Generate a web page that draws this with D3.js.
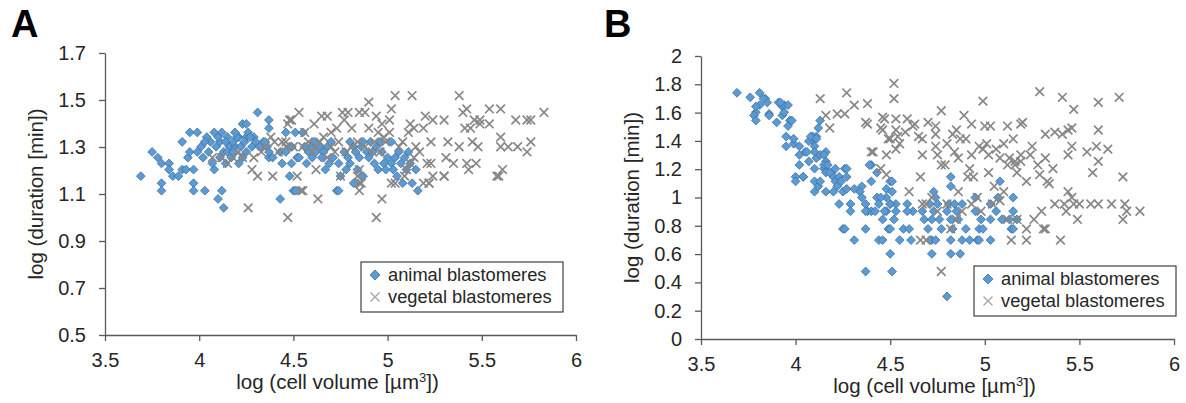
<!DOCTYPE html>
<html>
<head>
<meta charset="utf-8">
<script src="https://cdn.jsdelivr.net/npm/d3@7"></script>
<style>
  body { margin: 0; background: #fff; }
  svg { font-family: "Liberation Sans", Arial, sans-serif; }
</style>
</head>
<body>
<svg width="1186" height="403"></svg>
<script>
// tick values
var xTicks = [3.5, 4, 4.5, 5, 5.5, 6];
var yTicksA = [0.5, 0.7, 0.9, 1.1, 1.3, 1.5, 1.7];
var yTicksB = [0, 0.2, 0.4, 0.6, 0.8, 1, 1.2, 1.4, 1.6, 1.8, 2];
var seriesNames = ['animal blastomeres', 'vegetal blastomeres'];

// panel A: [log cell volume, log duration]
var animalA = [
  [3.69,1.176],[3.75,1.279],[3.78,1.255],[3.80,1.230],[3.80,1.146],[3.80,1.114],[3.84,1.230],[3.84,1.204],[3.86,1.176],[3.89,1.176],
  [3.91,1.322],[3.95,1.362],[3.99,1.362],[3.91,1.204],[3.93,1.204],[3.94,1.255],[3.97,1.204],[3.97,1.146],[3.97,1.114],[3.95,1.279],
  [3.99,1.279],[4.03,1.114],[4.04,1.342],[4.05,1.279],[4.02,1.255],[4.08,1.362],[4.08,1.204],[4.10,1.079],[4.12,1.114],[4.13,1.041],
  [4.09,1.301],[4.11,1.322],[4.13,1.279],[4.15,1.342],[4.16,1.301],[4.19,1.301],[4.18,1.322],[4.17,1.255],[4.21,1.230],[4.23,1.398],
  [4.25,1.398],[4.21,1.342],[4.25,1.342],[4.25,1.279],[4.28,1.301],[4.29,1.342],[4.31,1.447],[4.37,1.415],[4.37,1.380],[4.34,1.322],
  [4.36,1.301],[4.37,1.255],[4.43,1.079],[4.44,1.230],[4.48,1.176],[4.50,1.114],[4.46,1.362],
  [4.35,1.322],[4.37,1.279],[4.39,1.255],[4.43,1.279],[4.46,1.279],[4.49,1.301],[4.52,1.255],[4.49,1.230],
  [4.51,1.362],[4.55,1.362],[4.49,1.301],[4.53,1.255],[4.59,1.301],[4.64,1.301],[4.70,1.322],[4.71,1.255],[4.74,1.230],[4.75,1.176],
  [4.73,1.114],[4.80,1.322],[4.82,1.301],[4.80,1.230],[4.82,1.146],[4.85,1.255],[4.87,1.176],[4.87,1.322],[4.91,1.322],[4.96,1.322],
  [5.02,1.322],[4.89,1.279],[4.93,1.230],[4.95,1.204],[4.98,1.230],[5.02,1.230],[5.03,1.204],[5.06,1.279],[5.07,1.230],[5.08,1.146],
  [5.10,1.204],[5.13,1.146],[5.15,1.204],[5.16,1.114],[5.12,1.230],[4.74,1.114],[4.51,1.114],
  [4.06,1.322],[4.10,1.342],[4.12,1.362],[4.14,1.322],[4.15,1.279],[4.18,1.279],[4.20,1.342],[4.22,1.301],[4.24,1.322],[4.26,1.362],
  [4.27,1.342],[4.30,1.322],[4.32,1.301],[4.14,1.230],[4.07,1.230],[4.01,1.301],[4.03,1.322],[4.19,1.362],[4.23,1.255],[4.11,1.255],
  [4.56,1.301],[4.58,1.279],[4.61,1.322],[4.62,1.279],[4.66,1.279],[4.68,1.301],[4.57,1.230],[4.60,1.255],[4.65,1.255],[4.69,1.230],
  [4.67,1.204],[4.77,1.279],[4.79,1.255],[4.83,1.279],[4.86,1.301],[4.90,1.255],[4.92,1.279],[4.94,1.301],[4.97,1.279],[5.00,1.255],
  [4.99,1.204],[5.04,1.255],[5.09,1.255],[5.11,1.279],[5.05,1.176],[4.84,1.204],[4.78,1.204]
];
var vegetalA = [
  [5.04,1.519],[5.13,1.519],[5.38,1.519],[4.90,1.491],[4.53,1.447],[4.65,1.431],[4.68,1.431],[4.76,1.447],[4.79,1.447],[4.85,1.447],
  [4.88,1.447],[4.94,1.431],[5.02,1.462],[5.01,1.415],[4.97,1.398],[4.61,1.398],[4.48,1.415],[4.77,1.415],[4.81,1.380],[4.90,1.380],
  [5.01,1.362],[5.12,1.398],[5.14,1.380],[5.11,1.362],[5.20,1.431],[5.24,1.415],[5.30,1.415],[5.19,1.380],[5.40,1.447],[5.42,1.462],
  [5.46,1.415],[5.49,1.415],[5.54,1.462],[5.60,1.462],[5.41,1.380],[5.44,1.380],[5.49,1.398],[5.54,1.398],[5.68,1.415],[5.74,1.415],
  [5.76,1.415],[5.83,1.447],[5.23,1.322],[5.32,1.322],[5.38,1.301],[5.45,1.322],[5.48,1.301],[5.60,1.342],[5.60,1.301],[5.64,1.301],
  [5.69,1.301],[5.74,1.279],[5.76,1.322],[5.31,1.255],[5.35,1.230],[5.42,1.230],[5.47,1.230],[5.43,1.204],[5.58,1.176],[5.61,1.204],
  [5.24,1.176],[5.30,1.176],[5.19,1.146],[5.22,1.146],[5.15,1.301],[5.14,1.255],[5.17,1.279],[5.12,1.230],[5.10,1.204],[5.21,1.230],
  [5.23,1.230],[5.02,1.146],[5.04,1.146],[5.09,1.176],[4.97,1.079],[4.94,1.000],[4.85,1.114],[4.85,1.146],[4.75,1.176],[4.63,1.079],
  [4.54,1.114],[4.52,1.176],[4.47,1.000],[4.62,1.204],[4.68,1.255],[4.60,1.279],[4.84,1.176],[4.85,1.204],[4.78,1.279],[4.92,1.279],
  [4.96,1.279],[4.99,1.322],[4.66,1.342],[4.46,1.322],[4.50,1.301],[4.15,1.230],[4.18,1.255],[4.28,1.204],[4.31,1.176],[4.39,1.176],
  [4.47,1.398],[4.49,1.415],[4.26,1.041],[4.07,1.255],[4.12,1.255],[4.42,1.279],[4.46,1.301],[4.44,1.322],[4.55,1.114],[4.86,1.146],
  [5.22,1.146],[5.30,1.176],[5.59,1.176],[4.55,1.301],[4.58,1.322],[4.62,1.301],[4.64,1.322],[4.70,1.301],[4.72,1.279],[4.74,1.322],
  [4.81,1.301],[4.84,1.322],[4.88,1.301],[4.93,1.322],[4.70,1.362],[4.73,1.380],[4.56,1.362],[4.95,1.362],[4.98,1.342],[5.06,1.301],
  [5.08,1.322],[4.35,1.301],[4.40,1.322],[4.38,1.342],[4.29,1.255],[4.33,1.279],[4.23,1.255],[4.21,1.279]
];

// panel B
var animalB = [
  [3.69,1.740],[3.76,1.708],[3.81,1.740],[3.81,1.653],[3.79,1.602],[3.78,1.580],[3.79,1.544],[3.84,1.699],[3.85,1.672],[3.86,1.591],
  [3.90,1.531],[3.91,1.672],[3.93,1.643],[3.94,1.653],[3.96,1.653],[3.93,1.580],[3.94,1.602],[3.97,1.544],[3.96,1.505],[3.95,1.431],
  [3.95,1.362],[3.99,1.380],[4.02,1.362],[4.02,1.230],[4.04,1.146],[4.00,1.146],[4.00,1.114],[4.05,1.322],[4.07,1.255],[4.09,1.431],
  [4.09,1.398],[4.10,1.362],[4.11,1.431],[4.12,1.491],[4.13,1.544],[4.11,1.279],[4.10,1.322],[4.10,1.204],[4.10,1.114],[4.10,1.041],
  [4.12,1.079],[4.13,1.114],[4.15,1.204],[4.16,1.322],[4.16,1.255],[4.15,1.230],[4.17,1.230],[4.19,1.176],[4.20,1.146],[4.21,1.114],
  [4.23,1.146],[4.24,1.114],[4.26,1.204],[4.27,1.146],[4.22,1.079],[4.16,1.041],[4.20,1.041],[4.23,0.954],[4.25,1.041],[4.27,1.061],
  [4.29,0.954],[4.25,0.778],[4.31,0.699],[4.35,1.079],[4.34,1.041],[4.35,1.000],[4.37,0.954],[4.38,0.903],[4.40,0.903],[4.42,0.903],
  [4.40,1.230],[4.40,1.114],[4.43,1.176],[4.43,1.000],[4.37,0.778],[4.44,0.699],[4.37,0.477],
  [3.83,1.699],[3.79,1.643],[3.86,1.580],[3.92,1.672],[3.98,1.544],[3.99,1.415],[4.02,1.301],[4.04,1.146],[4.07,1.398],[4.08,1.431],
  [4.11,1.415],[4.06,1.322],[4.13,1.301],[4.15,1.301],[4.16,1.176],[4.18,1.176],[4.21,1.204],[4.27,1.204],[4.31,1.061],[4.39,1.230],
  [4.50,1.114],[4.48,1.061],[4.51,1.114],[4.51,1.041],[4.48,1.000],[4.45,1.000],[4.50,0.954],[4.53,0.954],[4.48,0.903],[4.53,0.903],
  [4.59,0.954],[4.62,0.903],[4.59,0.903],[4.46,0.845],[4.52,0.845],[4.73,1.041],[4.74,1.000],[4.71,0.954],[4.75,0.954],[4.81,0.954],
  [4.84,0.954],[4.88,0.954],[4.82,1.146],[4.82,1.079],[4.73,0.903],[4.80,0.903],[4.85,0.903],[4.95,1.000],[4.95,0.903],[5.03,0.954],
  [5.07,1.000],[5.08,1.114],[5.06,0.903],[5.15,1.000],[5.15,0.903],[5.17,0.845],[5.14,0.778],[4.68,0.845],[4.72,0.845],[4.76,0.845],
  [4.82,0.845],[4.86,0.845],[4.98,0.845],[5.03,0.845],[5.09,0.845],[4.49,0.778],[4.57,0.778],[4.60,0.778],[4.70,0.778],[4.77,0.778],
  [4.83,0.778],[4.90,0.778],[4.97,0.778],[4.55,0.699],[4.72,0.699],[4.82,0.699],[4.88,0.699],[4.96,0.699],[4.26,0.778],[4.46,0.699],
  [4.50,0.602],[4.51,0.477],[4.50,0.778],[4.61,0.699],[4.72,0.602],[4.71,0.699],[4.74,0.699],[4.82,0.602],[4.87,0.602],[4.80,0.301],
  [4.92,0.699],[4.97,0.699],[5.03,0.699],[5.15,0.778],[4.99,0.778],[5.13,0.845],[4.29,0.903],[4.37,0.903],[4.47,0.903],[4.67,0.903],
  [4.44,0.954],[4.50,0.954]
];
var vegetalB = [
  [4.13,1.699],[4.16,1.580],[4.18,1.491],[4.27,1.740],[4.31,1.653],[4.22,1.591],[4.38,1.663],[4.38,1.519],[4.47,1.556],[4.46,1.477],
  [4.52,1.806],[4.52,1.699],[4.41,1.322],[4.48,1.301],[4.50,1.415],[4.53,1.477],[4.45,1.204],[4.48,1.161],[4.99,1.681],[4.77,1.613],
  [5.29,1.748],[5.41,1.708],[5.47,1.623],[5.60,1.672],[5.71,1.708],[4.46,1.568],[4.53,1.556],[4.59,1.556],[4.63,1.519],[4.89,1.580],
  [4.93,1.519],[5.00,1.505],[5.03,1.505],[5.12,1.505],[5.19,1.519],[5.20,1.531],[4.45,1.491],[4.54,1.431],[4.65,1.431],[4.67,1.415],
  [4.74,1.505],[4.74,1.447],[4.74,1.362],[4.83,1.447],[4.85,1.477],[4.87,1.415],[4.90,1.415],[4.97,1.362],[4.99,1.342],[5.02,1.301],
  [5.01,1.380],[4.75,1.301],[4.67,1.301],[4.53,1.342],[4.49,1.415],[5.08,1.279],[5.13,1.279],[5.16,1.255],[5.19,1.301],[5.25,1.362],
  [5.32,1.447],[5.37,1.462],[5.41,1.447],[5.44,1.477],[5.46,1.491],[5.46,1.362],[5.44,1.301],[5.32,1.279],[5.54,1.322],[5.59,1.362],
  [5.60,1.477],[5.65,1.342],[5.60,1.255],[5.57,1.176],[5.73,1.146],[4.77,1.230],[4.79,1.230],[4.86,1.279],[4.92,1.204],[5.12,1.230],
  [5.16,1.230],[5.19,1.255],[5.17,1.176],[5.22,1.114],[5.29,1.161],[5.33,1.114],[5.34,1.097],[4.66,1.146],[4.60,1.041],[4.67,0.954],
  [4.91,1.146],[4.94,1.146],[5.02,1.176],[5.10,1.041],[5.05,1.079],[5.08,0.977],[5.37,0.954],[5.42,0.954],[5.47,0.954],[5.50,0.954],
  [5.56,0.954],[5.60,0.954],[5.67,0.954],[5.46,1.000],[5.44,1.041],[5.74,0.954],[5.75,0.903],[5.82,0.903],[5.73,0.845],[5.49,0.845],
  [5.30,0.903],[5.26,0.845],[5.31,0.778],[5.40,0.699],[4.69,0.954],[5.22,0.778],[5.14,0.699],[5.22,0.699],[5.32,0.778],[5.43,0.903],
  [4.77,0.477],[4.66,0.699],[4.69,0.699],[4.82,0.778],[4.85,0.845],[5.17,0.845],[5.12,0.845],[4.26,1.591],[4.37,1.531],[4.40,1.322],
  [4.75,0.903],[4.80,0.954],[4.88,0.903],[4.93,0.954],[4.98,0.903],[5.04,0.954],[4.72,1.000],[4.86,1.041],[4.96,1.000],[4.55,1.380],
  [4.58,1.462],[4.62,1.505],[4.70,1.531],[4.80,1.380],[4.84,1.322],[4.93,1.301],[5.06,1.342],[5.10,1.380],[5.15,1.415],[5.24,1.301],
  [5.28,1.230],[5.36,1.204]
];

var svg = d3.select('svg');

var blue = '#5b9bd5', blueEdge = '#3f6f9c', grey = '#878787';
var axisColor = '#595959', textColor = '#262626';

function diamond(r) { return 'M0,' + (-r) + 'L' + r + ',0L0,' + r + 'L' + (-r) + ',0Z'; }
function cross(r) { return 'M' + (-r) + ',' + (-r) + 'L' + r + ',' + r + 'M' + (-r) + ',' + r + 'L' + r + ',' + (-r); }

function drawPanel(p) {
    var x = d3.scaleLinear().domain([3.5, 6]).range([p.left, p.right]);
    var y = d3.scaleLinear().domain([p.yTicks[0], p.yTicks[p.yTicks.length - 1]]).range([p.bottom, p.top]);
    var g = svg.append('g');

    // axes
    var xa = g.append('g')
        .attr('transform', 'translate(0,' + p.bottom + ')')
        .call(d3.axisBottom(x).tickValues(xTicks).tickSize(6).tickSizeOuter(0).tickPadding(12)
            .tickFormat(function(d){ return String(d); }));
    var ya = g.append('g')
        .attr('transform', 'translate(' + p.left + ',0)')
        .call(d3.axisLeft(y).tickValues(p.yTicks).tickSize(6).tickSizeOuter(0).tickPadding(13)
            .tickFormat(function(d){ return String(+d.toFixed(1)); }));
    [xa, ya].forEach(function(a){
        a.selectAll('path, line').attr('stroke', axisColor).attr('stroke-width', 1.3);
        a.selectAll('text').attr('fill', textColor).attr('font-size', 20)
            .attr('font-family', '"Liberation Sans", Arial, sans-serif');
    });

    // points: animal first, vegetal on top
    g.append('g').selectAll('path')
        .data(p.animal)
        .enter()
        .append('path')
        .attr('transform', function(d){ return 'translate(' + x(d[0]) + ',' + y(d[1]) + ')'; })
        .attr('d', diamond(4.4))
        .attr('fill', blue)
        .attr('stroke', blueEdge)
        .attr('stroke-width', 0.8);
    g.append('g').selectAll('path')
        .data(p.vegetal)
        .enter()
        .append('path')
        .attr('transform', function(d){ return 'translate(' + x(d[0]) + ',' + y(d[1]) + ')'; })
        .attr('d', cross(4.3))
        .attr('fill', 'none')
        .attr('stroke', grey)
        .attr('stroke-width', 1.7);

    // axis titles
    var xt = g.append('text')
        .attr('x', (p.left + p.right) / 2 - 3)
        .attr('y', p.bottom + 54)
        .attr('text-anchor', 'middle')
        .attr('font-size', 20.5)
        .attr('fill', textColor)
        .text('log (cell volume [µm');
    xt.append('tspan').attr('dy', -7).attr('font-size', 13).text('3');
    xt.append('tspan').attr('dy', 7).text('])');

    g.append('text')
        .attr('transform', 'translate(' + (p.left - 62) + ',' + ((p.top + p.bottom) / 2) + ') rotate(-90)')
        .attr('text-anchor', 'middle')
        .attr('font-size', 20.5)
        .attr('fill', textColor)
        .text('log (duration [min])');

    // panel letter
    g.append('text')
        .attr('x', p.letterX)
        .attr('y', 37)
        .attr('font-size', 38)
        .attr('font-weight', 'bold')
        .attr('fill', '#000')
        .text(p.letter);

    // legend
    var lg = g.append('g').attr('transform', 'translate(' + p.legX + ',' + p.legY + ')');
    lg.append('rect').attr('width', 202).attr('height', 50)
        .attr('fill', '#fff').attr('stroke', '#404040').attr('stroke-width', 1.2);
    lg.append('path').attr('transform', 'translate(14,13)').attr('d', diamond(5))
        .attr('fill', blue).attr('stroke', blueEdge).attr('stroke-width', 0.8);
    lg.append('path').attr('transform', 'translate(14,35)').attr('d', cross(4.5))
        .attr('fill', 'none').attr('stroke', '#a6a6a6').attr('stroke-width', 1.4);
    lg.selectAll('text.leg')
        .data(seriesNames)
        .enter()
        .append('text')
        .attr('class', 'leg')
        .attr('x', 27)
        .attr('y', function(d, i){ return 19 + i * 22; })
        .attr('font-size', 18.3)
        .attr('fill', textColor)
        .text(function(d){ return d; });
}

drawPanel({
    letter: 'A', letterX: 11,
    left: 105, right: 576, top: 53, bottom: 335,
    yTicks: yTicksA, animal: animalA, vegetal: vegetalA,
    legX: 361, legY: 262
});
drawPanel({
    letter: 'B', letterX: 604,
    left: 701, right: 1174, top: 56, bottom: 339,
    yTicks: yTicksB, animal: animalB, vegetal: vegetalB,
    legX: 974, legY: 266
});
</script>
</body>
</html>
